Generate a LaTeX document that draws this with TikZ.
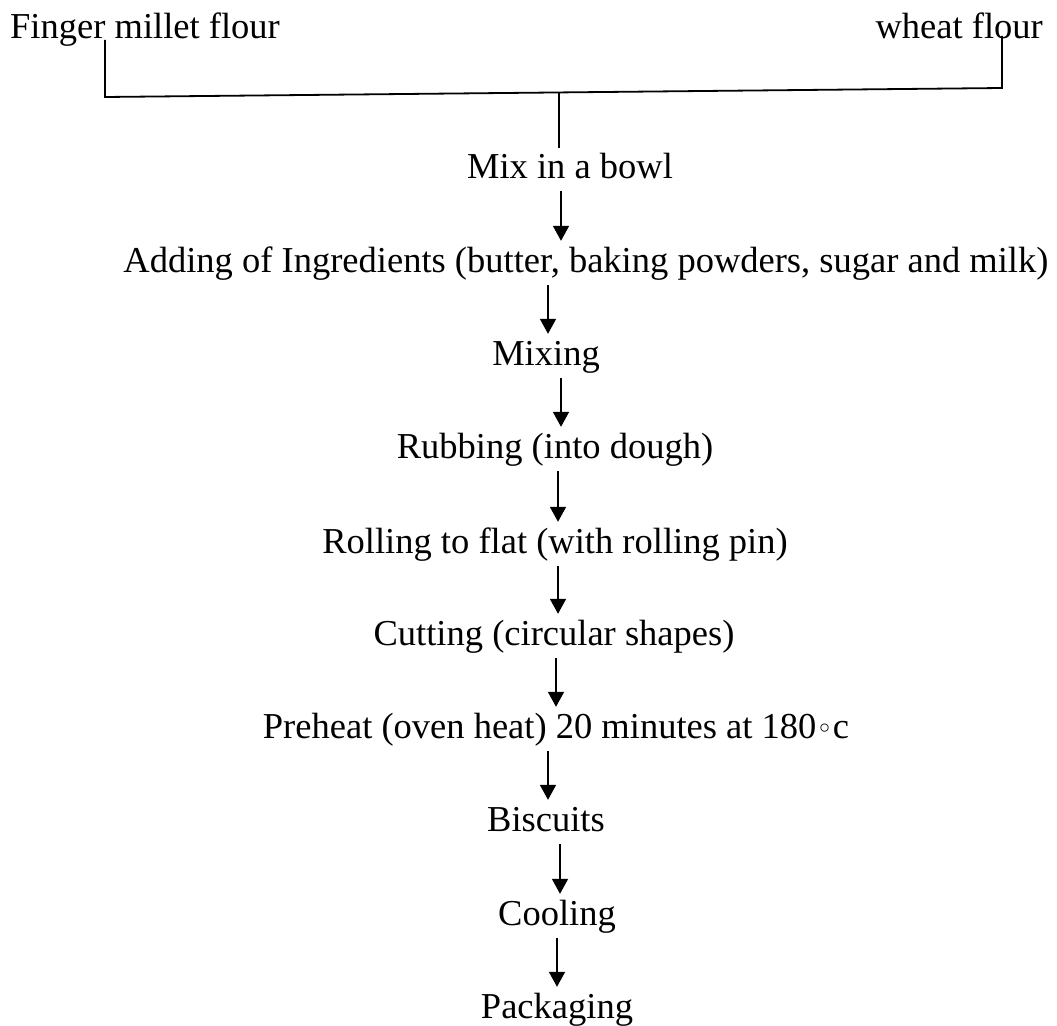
\documentclass[tikz,border=0pt]{standalone}
\usepackage{fontspec}
\setmainfont{Liberation Serif}
\newfontfamily\symfont{DejaVu Sans}
\usetikzlibrary{arrows.meta,calc}
\begin{document}
\begin{tikzpicture}[x=1pt,y=-1pt,
  lbl/.style={inner sep=0pt, font=\fontsize{36.5}{40}\selectfont, text height=25pt, text depth=8pt, anchor=base},
  ln/.style={line width=1.8pt},
  arr/.style={line width=1.8pt, -{Triangle[length=15pt,width=16pt]}}]
\useasboundingbox (0,0) rectangle (1057,1025);
% texts
\node[lbl, anchor=base west] (fin) at (10,39) {Finger millet flour};
\node[lbl, anchor=base east] (wht) at (1043,39) {wheat flour};
\node[lbl] (mix) at (570,178) {Mix in a bowl};
\node[lbl] (add) at (586,272) {Adding of Ingredients (butter, baking powders, sugar and milk)};
\node[lbl] (mixg) at (546,365) {Mixing};
\node[lbl] (rub) at (555,458) {Rubbing (into dough)};
\node[lbl] (roll) at (555,553) {Rolling to flat (with rolling pin)};
\node[lbl] (cut) at (554,645) {Cutting (circular shapes)};
\node[lbl] (pre) at (556,738) {Preheat (oven heat) 20 minutes at 180{\symfont\fontsize{28}{30}\selectfont ◦}c};
\node[lbl] (bis) at (546,831) {Biscuits};
\node[lbl] (cool) at (557,925) {Cooling};
\node[lbl] (pack) at (557,1018) {Packaging};
% top joining lines
\coordinate (lt) at (105,40);
\coordinate (lb) at (105,97);
\coordinate (rb) at (1002,88);
\coordinate (rt) at (1002,36);
\coordinate (jt) at (559,92.4);
\draw[ln] (lt) -- (lb) -- (rb) -- (rt);
\draw[ln] (jt) -- ($(mix.north)+(-11,-5)$);
% arrows
\draw[arr] ($(mix.south)+(-9,5)$) -- ($(add.north)+(-25,-6)$);
\draw[arr] ($(add.south)+(-38,5)$) -- ($(mixg.north)+(2,-6)$);
\draw[arr] ($(mixg.south)+(15,5)$) -- ($(rub.north)+(6,-6)$);
\draw[arr] ($(rub.south)+(3,5)$) -- ($(roll.north)+(3,-6)$);
\draw[arr] ($(roll.south)+(3,5)$) -- ($(cut.north)+(4,-6)$);
\draw[arr] ($(cut.south)+(2,5)$) -- ($(pre.north)+(0,-6)$);
\draw[arr] ($(pre.south)+(-8,5)$) -- ($(bis.north)+(2,-6)$);
\draw[arr] ($(bis.south)+(14,5)$) -- ($(cool.north)+(3,-6)$);
\draw[arr] ($(cool.south)+(0,5)$) -- ($(pack.north)+(0,-6)$);
\end{tikzpicture}
\end{document}
